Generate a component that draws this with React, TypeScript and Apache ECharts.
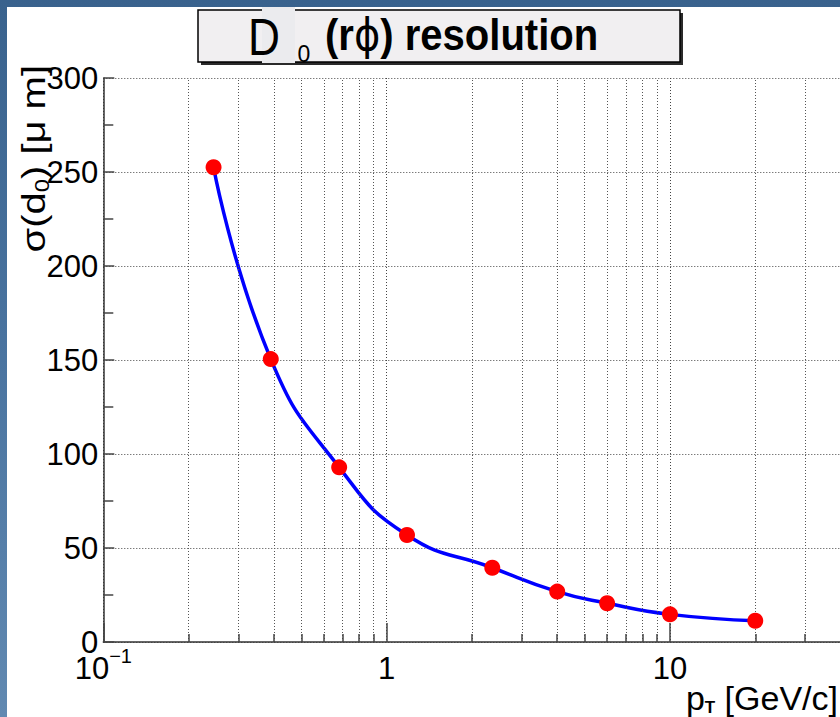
import React, { useEffect, useRef } from "react";
import * as echarts from "echarts";

// ---- data ----
const ptValues = [0.245, 0.39, 0.68, 1.18, 2.36, 4.0, 6.0, 10, 20];
const sigmaValues = [252.5, 150.5, 92.9, 56.9, 39.5, 26.8, 20.6, 14.7, 11.3];
const yRange = [0, 300];
const yStep = 50;
const xRange = [0.1, 100];
const xMinorGrid = [
  0.2, 0.3, 0.4, 0.5, 0.6, 0.7, 0.8, 0.9,
  2, 3, 4, 5, 6, 7, 8, 9,
  20, 30, 40, 50, 60, 70, 80, 90,
];
const titleMain = "{b|(r}{n|ϕ}{b|) resolution}";
const yTitle = "{a|σ(d}{s|0}{a|) [μ m]}";
const xTitle = "{a|p}{t|T}{a| [GeV/c]}";

const FONT = "'Liberation Sans', Arial, Helvetica, sans-serif";

export default function App() {
  const ref = useRef<HTMLDivElement>(null);

  useEffect(() => {
    if (!ref.current) return;
    const chart = echarts.init(ref.current, undefined, { renderer: "svg" });
    const pts = ptValues.map((x, i) => [x, sigmaValues[i]]);
    const tickLen = 4.3; // minor tick height in y units (~8px)

    const option: any = {
      animation: false,
      backgroundColor: "#ffffff",
      grid: {
        left: 96.3,
        top: 71,
        width: 850,
        height: 564,
        containLabel: false,
        outerBoundsMode: "none",
      },
      xAxis: {
        type: "log",
        logBase: 10,
        min: xRange[0],
        max: xRange[1],
        axisLine: { show: true, lineStyle: { color: "#333", width: 1.5 } },
        axisTick: { show: true, inside: true, length: 19, lineStyle: { color: "#444", width: 1.5 } },
        axisLabel: {
          margin: 4,
          color: "#000",
          fontFamily: FONT,
          hideOverlap: false,
          showMaxLabel: false,
          formatter: (v: number) =>
            v < 0.5 ? "{b|10}{s|−1}" : v > 50 ? "" : "{b|" + Math.round(v) + "}",
          rich: {
            b: { fontSize: 31, lineHeight: 44, fontFamily: FONT, color: "#000" },
            s: { fontSize: 20, lineHeight: 14, verticalAlign: "top", fontFamily: FONT, color: "#000" },
          },
        },
        splitLine: { show: true, lineStyle: { color: "#444", width: 1, type: [1, 2] } },
        minorTick: { show: false },
      },
      yAxis: {
        type: "value",
        min: yRange[0],
        max: yRange[1],
        interval: yStep,
        axisLine: { show: true, lineStyle: { color: "#333", width: 1.5 } },
        axisTick: { show: true, inside: true, length: 11, lineStyle: { color: "#444", width: 1.5 } },
        minorTick: { show: true, splitNumber: 2, length: 10, lineStyle: { color: "#444", width: 1.5 } },
        axisLabel: { margin: 5, color: "#000", fontSize: 31, fontFamily: FONT },
        splitLine: { show: true, lineStyle: { color: "#444", width: 1, type: [1, 2] } },
      },
      series: [
        {
          // helper series holding the minor grid lines
          type: "line",
          data: pts,
          symbol: "none",
          lineStyle: { opacity: 0 },
          silent: true,
          z: 1,
          markLine: {
            silent: true,
            symbol: ["none", "none"],
            label: { show: false },
            emphasis: { disabled: true },
            lineStyle: { color: "#555", width: 1, type: [1, 2] },
            data: xMinorGrid.map((v) => ({ xAxis: v })),
          },
        },
        {
          // helper series holding the minor x ticks
          type: "line",
          data: pts,
          symbol: "none",
          silent: true,
          z: 1,
          lineStyle: { opacity: 0 },
          markLine: {
            silent: true,
            symbol: ["none", "none"],
            label: { show: false },
            emphasis: { disabled: true },
            lineStyle: { color: "#444", width: 1.5, type: "solid" },
            data: xMinorGrid.map((v) => [{ coord: [v, yRange[0]] }, { coord: [v, tickLen] }]),
          },
        },
        {
          type: "line",
          data: pts,
          smooth: true,
          symbol: "none",
          z: 3,
          lineStyle: { color: "#0000ff", width: 3.5 },
        },
        {
          type: "scatter",
          data: pts,
          symbol: "circle",
          symbolSize: 16,
          z: 5,
          itemStyle: { color: "#ff0000", opacity: 1 },
        },
      ],
      graphic: [
        // title box shadow
        { type: "rect", shape: { x: 194, y: 6, width: 482, height: 52 }, style: { fill: "#2a2a2a" }, z: 10 },
        {
          type: "rect",
          shape: { x: 191, y: 3, width: 482, height: 52 },
          style: { fill: "#f1eff1", stroke: "#000", lineWidth: 1.5 },
          z: 11,
        },
        { type: "rect", shape: { x: 255, y: 0, width: 33, height: 56 }, style: { fill: "#ebebee" }, z: 12 },
        {
          type: "text",
          x: 257,
          y: 30,
          scaleX: 0.85,
          z: 13,
          style: {
            text: "D",
            fontSize: 52,
            fontFamily: FONT,
            fill: "#000",
            align: "center",
            verticalAlign: "middle",
            textAlign: "center",
            textVerticalAlign: "middle",
          },
        },
        {
          type: "text",
          x: 297,
          y: 47,
          z: 13,
          style: {
            text: "0",
            fontSize: 23,
            fontFamily: FONT,
            fill: "#000",
            align: "center",
            verticalAlign: "middle",
            textAlign: "center",
            textVerticalAlign: "middle",
          },
        },
        {
          type: "text",
          x: 318,
          y: 28,
          scaleX: 0.91,
          z: 13,
          style: {
            text: titleMain,
            align: "left",
            verticalAlign: "middle",
            textAlign: "left",
            textVerticalAlign: "middle",
            rich: {
              b: { fontSize: 44, fontWeight: "bold", fontFamily: FONT, fill: "#000", color: "#000" },
              n: { fontSize: 44, fontWeight: "normal", fontFamily: "'DejaVu Sans', " + FONT, fill: "#000", color: "#000" },
            },
          },
        },
        // y axis title
        {
          type: "text",
          x: 27,
          y: 58,
          rotation: Math.PI / 2,
          scaleX: 1.08,
          scaleY: 0.9,
          z: 13,
          style: {
            text: yTitle,
            align: "right",
            verticalAlign: "middle",
            textAlign: "right",
            textVerticalAlign: "middle",
            rich: {
              a: { fontSize: 37, lineHeight: 40, fontFamily: FONT, fill: "#000", color: "#000" },
              s: { fontSize: 22, lineHeight: 15, verticalAlign: "bottom", fontFamily: FONT, fill: "#000", color: "#000" },
            },
          },
        },
        // x axis title
        {
          type: "text",
          x: 831,
          y: 691,
          z: 13,
          style: {
            text: xTitle,
            align: "right",
            verticalAlign: "middle",
            textAlign: "right",
            textVerticalAlign: "middle",
            rich: {
              a: { fontSize: 34, lineHeight: 36, fontFamily: FONT, fill: "#000", color: "#000" },
              t: { fontSize: 17, lineHeight: 12, fontWeight: "bold", verticalAlign: "bottom", fontFamily: FONT, fill: "#000", color: "#000" },
            },
          },
        },
      ],
    };

    chart.setOption(option);
    return () => chart.dispose();
  }, []);

  return (
    <div
      style={{
        position: "absolute",
        left: 0,
        top: 0,
        width: 840,
        height: 717,
        overflow: "hidden",
        background: "linear-gradient(to bottom, #39628d 0%, #4a74a0 50%, #6189b1 100%)",
      }}
    >
      <div ref={ref} style={{ position: "absolute", left: 7, top: 7, width: 833, height: 710 }} />
    </div>
  );
}
